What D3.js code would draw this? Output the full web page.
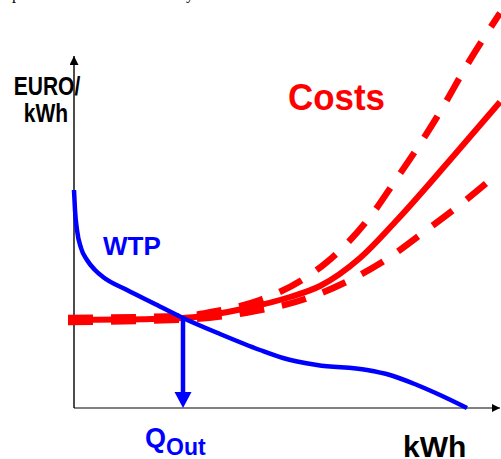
<!DOCTYPE html>
<html><head><meta charset="utf-8">
<script src="https://cdn.jsdelivr.net/npm/d3@7"></script>
<style>html,body{margin:0;padding:0;background:#fff;overflow:hidden}</style>
</head><body>
<script>
// ---- data (quantity in kWh units, price in EURO/kWh units, arbitrary scale 0..100) ----
const wtpQ   = [0, 0.25, 0.75, 1.75, 3.25, 5.25, 7.25, 13.25, 19.75, 27.25, 36.5, 46.5, 52.25, 60.75, 73.25, 79, 85.75, 91.5, 98.25];
const wtpP   = [54.5, 49.5, 44.5, 40, 37, 34.5, 32.75, 29.5, 26.25, 22.5, 18.5, 14.5, 12.5, 10.75, 9.5, 8.25, 5.75, 3.25, 0];

const costQ  = [-1.5, 11.5, 27.25, 43.25, 54, 61.5, 71.5, 80.75, 94, 106.5];
const costP  = [22, 22.1, 22.5, 25, 27.75, 30.5, 37.5, 47, 62, 76.5];

const costHiQ = [-1.5, 27.25, 35.75, 46.5, 57, 63.25, 74.75, 80.25, 86, 90.75, 99, 106.5];
const costHiP = [22.5, 23, 24.25, 27, 32, 36.5, 48.75, 56.75, 65.25, 72.75, 87, 98.75];

const costLoQ = [-1.5, 27.25, 44, 57.75, 68.5, 78.25, 87.5, 96.75, 103.75];
const costLoP = [21.5, 22.1, 24, 27.25, 31.75, 37.25, 44, 51, 56.75];

const qOut = 27.25, pOut = 22.5;

const yLabel = ["EURO/", "kWh"];
const xLabel = "kWh";
const costLabel = "Costs";
const wtpLabel = "WTP";
const qLabel = "Q", qSub = "Out";

// ---- layout ----
const W = 501, H = 459;
const svg = d3.select("body").append("svg").attr("width", W).attr("height", H);
const x = d3.scaleLinear().domain([0, 100]).range([74, 474]);
const y = d3.scaleLinear().domain([0, 100]).range([408, 8]);
const RED = "#ff0000", BLUE = "#0000ff";

// clipped fragments of text above the figure
svg.append("text").attr("x", 12).attr("y", -1.5).attr("font-family", "Liberation Serif").attr("font-size", 16).text("p");
svg.append("text").attr("x", 186).attr("y", -1.5).attr("font-family", "Liberation Serif").attr("font-size", 16).text("y");

// axes
const defs = svg.append("defs");
defs.append("marker").attr("id", "ah").attr("viewBox", "0 0 10 10").attr("refX", 10).attr("refY", 5)
  .attr("markerWidth", 8).attr("markerHeight", 8).attr("markerUnits", "userSpaceOnUse").attr("orient", "auto")
  .append("path").attr("d", "M0,0L10,5L0,10Z").attr("fill", "#000");
defs.append("marker").attr("id", "ahy").attr("viewBox", "0 0 10 10").attr("refX", 10).attr("refY", 5)
  .attr("markerWidth", 9).attr("markerHeight", 9).attr("markerUnits", "userSpaceOnUse").attr("orient", "auto")
  .append("path").attr("d", "M0,0L10,5L0,10Z").attr("fill", "#000");

svg.append("line").attr("x1", x(0)).attr("y1", y(0)).attr("x2", x(106.5)).attr("y2", y(0))
  .attr("stroke", "#808080").attr("stroke-width", 2).attr("marker-end", "url(#ah)");
svg.append("line").attr("x1", x(0)).attr("y1", y(0)).attr("x2", x(0)).attr("y2", y(88))
  .attr("stroke", "#000").attr("stroke-width", 1.4).attr("marker-end", "url(#ahy)");

// curves
const line = d3.line().x(d => x(d[0])).y(d => y(d[1])).curve(d3.curveMonotoneX);
const zip = (a, b) => a.map((v, i) => [v, b[i]]);

svg.append("path").attr("d", line(zip(costHiQ, costHiP))).attr("fill", "none")
  .attr("stroke", RED).attr("stroke-width", 6.5).attr("stroke-dasharray", "25,18");
svg.append("path").attr("d", line(zip(costLoQ, costLoP))).attr("fill", "none")
  .attr("stroke", RED).attr("stroke-width", 6.5).attr("stroke-dasharray", "25,18");
svg.append("path").attr("d", line(zip(costQ, costP))).attr("fill", "none")
  .attr("stroke", RED).attr("stroke-width", 6);

svg.append("path").attr("d", line(zip(wtpQ, wtpP))).attr("fill", "none")
  .attr("stroke", BLUE).attr("stroke-width", 4.5);

// Q_out arrow
svg.append("line").attr("x1", x(qOut)).attr("y1", y(pOut)).attr("x2", x(qOut)).attr("y2", y(0) - 14)
  .attr("stroke", BLUE).attr("stroke-width", 4.5);
svg.append("path")
  .attr("d", `M${x(qOut) - 8.5},${y(0) - 16}L${x(qOut) + 8.5},${y(0) - 16}L${x(qOut)},${y(0)}Z`)
  .attr("fill", BLUE);

// labels
const bold = "Liberation Sans, Arial, sans-serif";
svg.append("text").attr("transform", "translate(47,95) scale(1,1.25)")
  .attr("text-anchor", "middle").attr("font-family", bold).attr("font-weight", "bold").attr("font-size", 21)
  .text(yLabel[0]);
svg.append("text").attr("transform", "translate(46,122) scale(1,1.25)")
  .attr("text-anchor", "middle").attr("font-family", bold).attr("font-weight", "bold").attr("font-size", 21)
  .text(yLabel[1]);

svg.append("text").attr("x", 288).attr("y", 110).attr("font-family", bold).attr("font-weight", "bold")
  .attr("font-size", 36).attr("fill", RED).attr("textLength", 97).attr("lengthAdjust", "spacingAndGlyphs")
  .text(costLabel);

svg.append("text").attr("x", 103).attr("y", 255).attr("font-family", bold).attr("font-weight", "bold")
  .attr("font-size", 26).attr("fill", BLUE).text(wtpLabel);

const qt = svg.append("text").attr("x", 145).attr("y", 447).attr("font-family", bold).attr("font-weight", "bold")
  .attr("fill", BLUE);
qt.append("tspan").attr("font-size", 27).text(qLabel);
qt.append("tspan").attr("font-size", 23).attr("dy", 8).text(qSub);

svg.append("text").attr("x", 403).attr("y", 457).attr("font-family", bold).attr("font-weight", "bold")
  .attr("font-size", 30).attr("fill", "#000").text(xLabel);
</script>
</body></html>
